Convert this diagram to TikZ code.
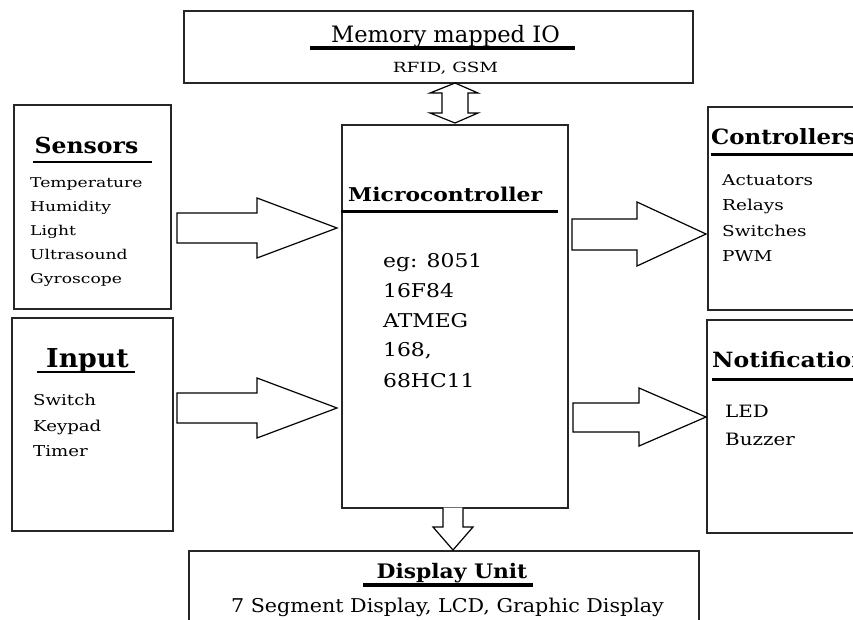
\documentclass[tikz,border=0pt]{standalone}
\usepackage{fontspec}
\usepackage{graphicx}
\setmainfont{DejaVu Serif}
\newcommand\sx[2]{\scalebox{#1}[1]{#2}}
\begin{document}
\begin{tikzpicture}[x=1pt,y=-1pt,
  box/.style={draw=black!85, line width=1.5pt, inner sep=0, anchor=north west},
  ulthick/.style={line width=3.6pt},
  ulthin/.style={line width=1.8pt},
  blk/.style={draw, line width=1.2pt, fill=white, line join=miter},
  fs/.style={font=\fontsize{#1}{#1}\selectfont},
  fb/.style={font=\fontsize{#1}{#1}\selectfont\bfseries},
  it/.style={anchor=base west, inner sep=0}]
\useasboundingbox (0,0) rectangle (853,619);
\clip (0,0) rectangle (853,619);
% boxes
\node[box, minimum width=509pt, minimum height=72pt] (mem) at (183,10) {};
\node[box, minimum width=226pt, minimum height=383pt] (mc) at (341,124) {};
\node[box, minimum width=157pt, minimum height=204pt] (sens) at (13,104) {};
\node[box, minimum width=161pt, minimum height=213pt] (inp) at (11,317) {};
\node[box, minimum width=170pt, minimum height=203pt] (ctrl) at (707,106) {};
\node[box, minimum width=170pt, minimum height=213pt] (notif) at (706,319) {};
\node[box, minimum width=510pt, minimum height=90pt] (disp) at (188,550) {};
% memory mapped IO
\node[fs=22.6, anchor=base, inner sep=0] (memt) at (445.5,42) {Memory mapped IO};
\draw[ulthick] (310,48) -- (575,48);
\node[fs=14, anchor=base, inner sep=0] (memi) at (445.5,72) {\sx{1.31}{RFID, GSM}};
% double arrow mem <-> mc
\draw[blk] (455,83) -- (478,93) -- (468,93) -- (468,113) -- (478,113) -- (455,123)
  -- (430,113) -- (442,113) -- (442,93) -- (430,93) -- cycle;
% sensors
\node[fb=22, anchor=base, inner sep=0] (senst) at (86.5,153) {\sx{1.07}{Sensors}};
\draw[ulthin] (33,162) -- (152,162);
\foreach \t [count=\i] in {Temperature,Humidity,Light,Ultrasound,Gyroscope}
  \node[fs=13.5, it] (s\i) at (30,163+24*\i) {\sx{1.27}{\t}};
% input
\node[fb=26, anchor=base, inner sep=0] (inpt) at (87.5,367) {\sx{1.03}{Input}};
\draw[ulthin] (37,372) -- (135,372);
\node[fs=15, it] (i1) at (33,405) {\sx{1.21}{Switch}};
\node[fs=15, it] (i2) at (33,431) {\sx{1.21}{Keypad}};
\node[fs=15, it] (i3) at (33,456) {\sx{1.21}{Timer}};
% controllers
\node[fb=21, it] (ctrlt) at (711,144) {\sx{1.09}{Controllers}};
\draw[ulthick] (711,154.5) -- (853,154.5);
\foreach \t [count=\i] in {Actuators,Relays,Switches,PWM}
  \node[fs=15, it] (c\i) at (722,159.5+25.5*\i) {\sx{1.23}{\t}};
% notification
\node[fb=21, it] (notift) at (712,367) {\sx{1.12}{Notification}};
\draw[ulthick] (712,379.5) -- (853,379.5);
\node[fs=17, it] (n1) at (725,417) {\sx{1.17}{LED}};
\node[fs=17, it] (n2) at (725,445) {\sx{1.17}{Buzzer}};
% microcontroller
\node[fb=19, it] (mct) at (348,201) {\sx{1.15}{Microcontroller}};
\draw[ulthick] (341,211.5) -- (558,211.5);
\foreach \t/\yy [count=\i] in {eg: 8051/267,16F84/297,ATMEG/327,{168,}/356,68HC11/387}
  \node[fs=19, it] (m\i) at (383,\yy) {\sx{1.15}{\t}};
% display
\node[fb=20, anchor=base, inner sep=0] (dispt) at (452,578) {\sx{1.09}{Display Unit}};
\draw[ulthick] (363,585) -- (533,585);
\node[fs=19, anchor=base, inner sep=0] (dispi) at (447.5,612) {\sx{1.086}{7 Segment Display, LCD, Graphic Display}};
% block arrows
\draw[blk] (177,213) -- (257,213) -- (257,198) -- (337,228) -- (257,258) -- (257,243) -- (177,243) -- cycle;
\draw[blk] (177,393) -- (257,393) -- (257,378) -- (337,408) -- (257,438) -- (257,423) -- (177,423) -- cycle;
\draw[blk] (572,219) -- (637,219) -- (637,202) -- (706,234) -- (637,266) -- (637,250) -- (572,250) -- cycle;
\draw[blk] (573,403) -- (639,403) -- (639,388) -- (706,417) -- (639,446) -- (639,432) -- (573,432) -- cycle;
\draw[blk] (443,507.6) -- (443,527) -- (433,527) -- (453,550) -- (473,527) -- (463,527) -- (463,507.6);
\end{tikzpicture}
\end{document}
